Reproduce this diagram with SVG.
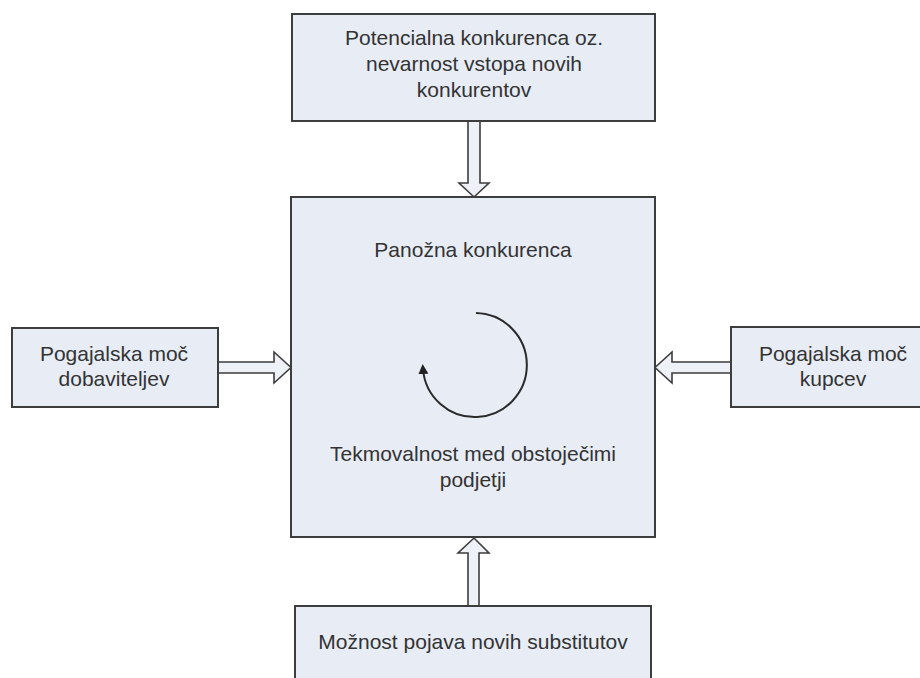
<svg xmlns="http://www.w3.org/2000/svg" width="920" height="678" viewBox="0 0 920 678">
<style>
.box{fill:#e7ecf5;stroke:#3d3d3d;stroke-width:2}
.arr{fill:#eef1f7;stroke:#3d3d3d;stroke-width:1.6;stroke-linejoin:miter}
text{font-family:"Liberation Sans",Arial,sans-serif;font-size:21px;fill:#333;text-anchor:middle}
</style>
<defs>
<marker id="ah" viewBox="0 0 10 10" refX="5" refY="5" markerWidth="5" markerHeight="5" orient="auto">
<path d="M0,0 L10,5 L0,10 z" fill="#222"/>
</marker>
</defs>
<rect width="920" height="678" fill="#ffffff"/>
<g id="connectors">
<polygon class="arr" points="468,121 480,121 480,183 489,183 474,197 459,183 468,183"/>
<polygon class="arr" points="468,606 479,606 479,553 489,553 474,538 458,553 468,553"/>
<polygon class="arr" points="218,362 274,362 274,352 291,367.5 274,383 274,373 218,373"/>
<polygon class="arr" points="731,362 672,362 672,352 655,367.5 672,383 672,373 731,373"/>
</g>
<g id="top">
<rect class="box" x="292" y="14" width="363" height="107"/>
<text x="474" y="45">Potencialna konkurenca oz.</text>
<text x="474" y="71">nevarnost vstopa novih</text>
<text x="474" y="97">konkurentov</text>
</g>
<g id="center">
<rect class="box" x="291" y="197" width="364" height="340"/>
<text x="473" y="257">Panožna konkurenca</text>
<path d="M476,313 A52,52 0 1 1 423,369" fill="none" stroke="#2a2a2a" stroke-width="2" marker-end="url(#ah)"/>
<text x="473" y="461">Tekmovalnost med obstoječimi</text>
<text x="473" y="487">podjetji</text>
</g>
<g id="left">
<rect class="box" x="12" y="328" width="206" height="79"/>
<text x="114" y="361">Pogajalska moč</text>
<text x="114" y="386">dobaviteljev</text>
</g>
<g id="right">
<rect class="box" x="731" y="327" width="195" height="80"/>
<text x="833" y="361">Pogajalska moč</text>
<text x="833" y="386">kupcev</text>
</g>
<g id="bottom">
<rect class="box" x="295" y="606" width="356" height="90"/>
<text x="473" y="649">Možnost pojava novih substitutov</text>
</g>
</svg>
